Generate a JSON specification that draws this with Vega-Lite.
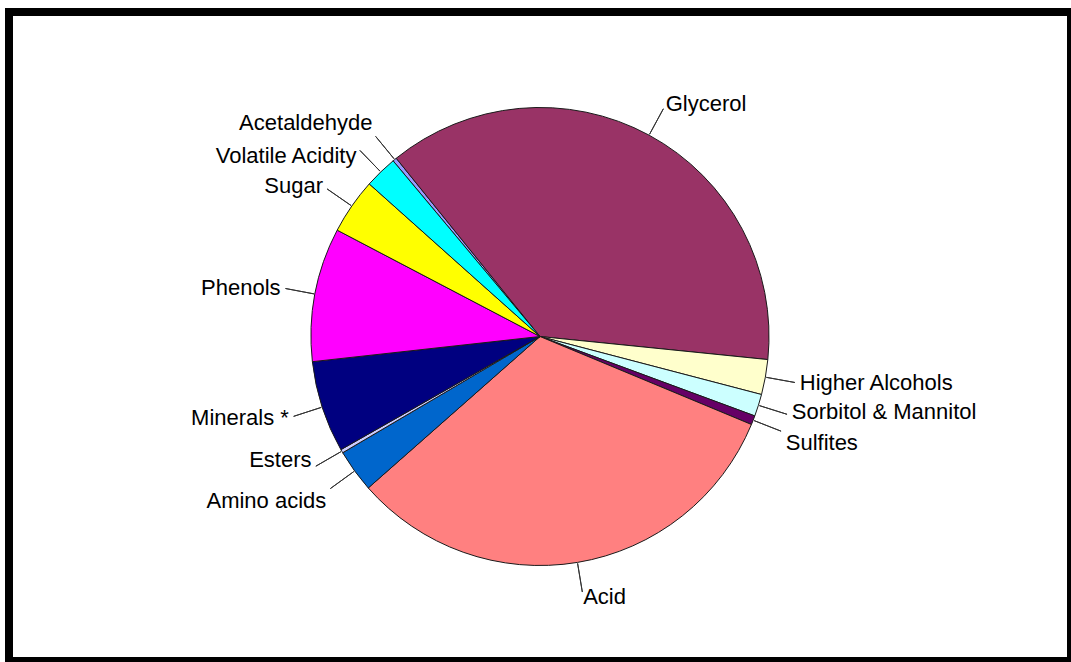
{
  "$schema": "https://vega.github.io/schema/vega-lite/v6.json",
  "autosize": {"type": "none"},
  "padding": {"left": 9, "top": 12, "right": 0, "bottom": 1},
  "width": 1062,
  "height": 649,
  "background": "white",
  "config": {"view": {"stroke": "black", "strokeWidth": 8}},
  "data": {
    "values": [
      {"ord": 1, "component": "Acetaldehyde", "value": 0.28},
      {"ord": 2, "component": "Glycerol", "value": 37.41},
      {"ord": 3, "component": "Higher Alcohols", "value": 2.47},
      {"ord": 4, "component": "Sorbitol & Mannitol", "value": 1.56},
      {"ord": 5, "component": "Sulfites", "value": 0.64},
      {"ord": 6, "component": "Acid", "value": 32.22},
      {"ord": 7, "component": "Amino acids", "value": 3.03},
      {"ord": 8, "component": "Esters", "value": 0.25},
      {"ord": 9, "component": "Minerals *", "value": 6.47},
      {"ord": 10, "component": "Phenols", "value": 9.44},
      {"ord": 11, "component": "Sugar", "value": 3.92},
      {"ord": 12, "component": "Volatile Acidity", "value": 2.31}
    ]
  },
  "transform": [
    {"window": [{"op": "sum", "field": "value", "as": "cum"}], "sort": [{"field": "ord"}], "frame": [null, 0]},
    {"calculate": "datum.cum - datum.value", "as": "start"},
    {"calculate": "datum.cum - datum.value / 2", "as": "mid"}
  ],
  "layer": [
    {
      "mark": {"type": "point", "opacity": 0},
      "encoding": {
        "x": {"datum": 0, "type": "quantitative", "axis": null},
        "y": {"datum": 0, "type": "quantitative", "axis": null}
      }
    },
    {
      "mark": {"type": "arc", "outerRadius": 229, "stroke": "#1a1a1a", "strokeWidth": 1},
      "encoding": {
        "theta": {"field": "start", "type": "quantitative", "scale": {"domain": [0, 100], "nice": false, "zero": true, "range": [-0.6964, 5.5868]}},
        "theta2": {"field": "cum"},
        "color": {
          "field": "component",
          "type": "nominal",
          "legend": null,
          "scale": {
            "domain": ["Acetaldehyde", "Glycerol", "Higher Alcohols", "Sorbitol & Mannitol", "Sulfites", "Acid", "Amino acids", "Esters", "Minerals *", "Phenols", "Sugar", "Volatile Acidity"],
            "range": ["#9999FF", "#993366", "#FFFFCC", "#CCFFFF", "#660066", "#FF8080", "#0066CC", "#CCCCFF", "#000080", "#FF00FF", "#FFFF00", "#00FFFF"]
          }
        }
      }
    },
    {
      "mark": {"type": "arc", "outerRadius": 259, "innerRadius": 230, "fill": null, "stroke": "#333333", "strokeWidth": 1},
      "encoding": {
        "theta": {"field": "mid", "type": "quantitative"},
        "theta2": {"field": "mid"}
      }
    },
    {
      "transform": [{"filter": "indexof(['Sugar','Phenols','Minerals *'], datum.component) >= 0"}],
      "mark": {"type": "text", "radius": 264, "align": "right", "baseline": "middle", "font": "Liberation Sans", "fontSize": 22, "color": "black"},
      "encoding": {"theta": {"field": "mid", "type": "quantitative"}, "text": {"field": "component"}}
    },
    {
      "transform": [{"filter": "indexof(['Acetaldehyde','Esters'], datum.component) >= 0"}],
      "mark": {"type": "text", "radius": 264, "dy": -9, "align": "right", "baseline": "middle", "font": "Liberation Sans", "fontSize": 22, "color": "black"},
      "encoding": {"theta": {"field": "mid", "type": "quantitative"}, "text": {"field": "component"}}
    },
    {
      "transform": [{"filter": "indexof(['Volatile Acidity','Amino acids'], datum.component) >= 0"}],
      "mark": {"type": "text", "radius": 264, "dy": 9, "align": "right", "baseline": "middle", "font": "Liberation Sans", "fontSize": 22, "color": "black"},
      "encoding": {"theta": {"field": "mid", "type": "quantitative"}, "text": {"field": "component"}}
    },
    {
      "transform": [{"filter": "indexof(['Glycerol','Higher Alcohols','Acid'], datum.component) >= 0"}],
      "mark": {"type": "text", "radius": 264, "align": "left", "baseline": "middle", "font": "Liberation Sans", "fontSize": 22, "color": "black"},
      "encoding": {"theta": {"field": "mid", "type": "quantitative"}, "text": {"field": "component"}}
    },
    {
      "transform": [{"filter": "datum.component == 'Sorbitol & Mannitol'"}],
      "mark": {"type": "text", "radius": 264, "dy": -4, "align": "left", "baseline": "middle", "font": "Liberation Sans", "fontSize": 22, "color": "black"},
      "encoding": {"theta": {"field": "mid", "type": "quantitative"}, "text": {"field": "component"}}
    },
    {
      "transform": [{"filter": "datum.component == 'Sulfites'"}],
      "mark": {"type": "text", "radius": 264, "dy": 10, "align": "left", "baseline": "middle", "font": "Liberation Sans", "fontSize": 22, "color": "black"},
      "encoding": {"theta": {"field": "mid", "type": "quantitative"}, "text": {"field": "component"}}
    }
  ]
}
